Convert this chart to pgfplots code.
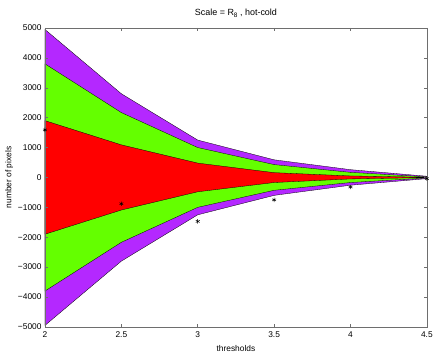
\documentclass[border=0pt]{standalone}
\usepackage{pgfplots}
\pgfplotsset{compat=1.18}
\usepackage{fontspec}
\setmainfont{Liberation Sans}
\definecolor{cpurple}{RGB}{180,40,255}
\definecolor{cgreen}{RGB}{100,255,0}
\definecolor{cred}{RGB}{255,0,0}
\definecolor{axgray}{RGB}{110,110,110}
\begin{document}
\begin{tikzpicture}
\begin{axis}[
  name=ax,
  scale only axis,
  width=382bp, height=299bp,
  xmin=2, xmax=4.5, ymin=-5000, ymax=5000,
  xtick={2,2.5,3,3.5,4,4.5},
  xticklabels={2,2.5,3,3.5,4,4.5},
  ytick={-5000,-4000,-3000,-2000,-1000,0,1000,2000,3000,4000,5000},
  yticklabels={−5000,−4000,−3000,−2000,−1000,0,1000,2000,3000,4000,5000},
  tick align=inside,
  tick pos=both,
  major tick length=3bp,
  axis line style={axgray, line width=0.6pt},
  every tick/.style={axgray, line width=0.5pt},
  tick label style={font=\fontsize{8.4}{9}\selectfont, text=black},
  xticklabel style={yshift=-1bp},
  label style={font=\fontsize{8.4}{9}\selectfont},
  xlabel={thresholds},
  ylabel={number of pixels},
  xlabel style={yshift=-1bp},
  ylabel style={yshift=-2bp},
  title={Scale = R\raisebox{-0.45ex}{\fontsize{6.5}{7}\selectfont 8} , hot-cold},
  title style={font=\fontsize{9}{10}\selectfont, yshift=1bp},
  axis on top,
]
\addplot[fill=cpurple, draw=black, line width=0.3pt] coordinates {
 (2,4950) (2.5,2800) (3,1250) (3.5,590) (4,260) (4.5,40)
 (4.5,-40) (4,-260) (3.5,-600) (3,-1250) (2.5,-2800) (2,-4950)} -- cycle;
\addplot[fill=cgreen, draw=black, line width=0.3pt] coordinates {
 (2,3800) (2.5,2170) (3,1000) (3.5,430) (4,170) (4.5,20)
 (4.5,-20) (4,-170) (3.5,-430) (3,-1000) (2.5,-2170) (2,-3800)} -- cycle;
\addplot[fill=cred, draw=black, line width=0.3pt] coordinates {
 (2,1900) (2.5,1090) (3,480) (3.5,160) (4,50) (4.5,5)
 (4.5,-5) (4,-50) (3.5,-170) (3,-480) (2.5,-1090) (2,-1900)} -- cycle;
\addplot[only marks, mark=asterisk, mark size=2.2pt, black, mark options={line width=0.5pt}] coordinates {
 (2,1590) (2.5,-880) (3,-1470) (3.5,-750) (4,-320) (4.5,-40)};
\end{axis}
\path ([shift={(-45bp,-33bp)}]ax.south west) rectangle ([shift={(9bp,28bp)}]ax.north east);
\end{tikzpicture}
\end{document}
